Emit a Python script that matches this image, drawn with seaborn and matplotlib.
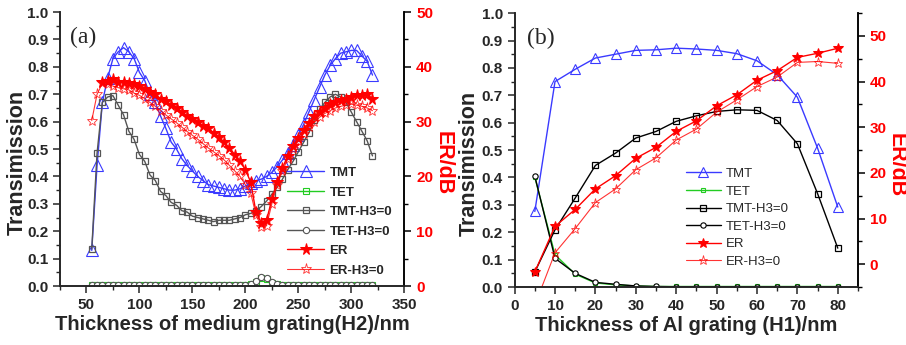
import numpy as np
import pandas as pd
import matplotlib
matplotlib.use('Agg')
import matplotlib.pyplot as plt
import seaborn as sns
from matplotlib.ticker import MultipleLocator

sns.set_style('ticks')
plt.rcParams['font.family'] = ['Liberation Sans', 'DejaVu Sans']

# ---------------- panel (a): medium grating thickness H2 ----------------
h2 = [55, 60, 65, 70, 75, 80, 85, 90, 95, 100, 105, 110, 115, 120, 125, 130, 135, 140,
      145, 150, 155, 160, 165, 170, 175, 180, 185, 190, 195, 200, 205, 210, 215, 220,
      225, 230, 235, 240, 245, 250, 255, 260, 265, 270, 275, 280, 285, 290, 295, 300,
      305, 310, 315, 320]
tmt_a = [0.13, 0.44, 0.67, 0.76, 0.83, 0.855, 0.87, 0.855, 0.83, 0.78, 0.75, 0.70, 0.67, 0.62,
         0.575, 0.525, 0.50, 0.465, 0.44, 0.42, 0.40, 0.385, 0.37, 0.365, 0.36, 0.355, 0.35,
         0.35, 0.355, 0.365, 0.375, 0.385, 0.39, 0.40, 0.415, 0.435, 0.46, 0.485, 0.515, 0.55,
         0.59, 0.635, 0.68, 0.725, 0.77, 0.805, 0.83, 0.85, 0.855, 0.86, 0.86, 0.84, 0.82, 0.77]
tet_a = [0.003, 0.003, 0.003, 0.003, 0.003, 0.003, 0.003, 0.003, 0.003, 0.003, 0.003, 0.003,
         0.003, 0.003, 0.003, 0.003, 0.003, 0.003, 0.003, 0.003, 0.003, 0.003, 0.003, 0.003,
         0.003, 0.003, 0.003, 0.003, 0.004, 0.005, 0.008, 0.015, 0.028, 0.025, 0.012, 0.006,
         0.004, 0.003, 0.003, 0.003, 0.003, 0.003, 0.003, 0.003, 0.003, 0.003, 0.003, 0.003,
         0.003, 0.003, 0.003, 0.003, 0.003, 0.003]
tmt0_a = [0.135, 0.485, 0.67, 0.69, 0.695, 0.66, 0.625, 0.565, 0.535, 0.48, 0.455, 0.405, 0.385,
          0.345, 0.33, 0.305, 0.295, 0.275, 0.27, 0.255, 0.25, 0.245, 0.24, 0.235, 0.24, 0.24,
          0.24, 0.245, 0.25, 0.26, 0.265, 0.275, 0.29, 0.31, 0.335, 0.36, 0.39, 0.425, 0.455,
          0.49, 0.525, 0.56, 0.605, 0.645, 0.67, 0.69, 0.70, 0.69, 0.67, 0.635, 0.60, 0.565,
          0.53, 0.475]
tet0_a = [0.002, 0.002, 0.002, 0.002, 0.002, 0.002, 0.002, 0.002, 0.002, 0.002, 0.002, 0.002,
          0.002, 0.002, 0.002, 0.002, 0.002, 0.002, 0.002, 0.002, 0.002, 0.002, 0.002, 0.002,
          0.002, 0.002, 0.002, 0.002, 0.003, 0.004, 0.008, 0.018, 0.033, 0.028, 0.014, 0.006,
          0.003, 0.002, 0.002, 0.002, 0.002, 0.002, 0.002, 0.002, 0.002, 0.002, 0.002, 0.002,
          0.002, 0.002, 0.002, 0.002, 0.002, 0.002]
er_a = [np.nan, np.nan, 37.2, 37.5, 37.8, 37.3, 37.2, 37.0, 36.8, 36.5, 36.0, 35.5, 35.0, 34.2,
        33.8, 33.0, 32.5, 31.8, 31.0, 30.5, 30.0, 29.2, 28.8, 28.0, 27.2, 26.2, 25.2, 24.0,
        22.8, 21.2, 19.0, 13.5, 11.5, 12.0, 15.8, 19.0, 21.5, 23.8, 25.5, 27.0, 28.5, 29.8,
        31.0, 31.8, 32.5, 33.2, 33.5, 34.0, 34.2, 34.5, 34.8, 34.8, 35.0, 34.2]
er0_a = [30.2, 35.0, 37.0, 36.8, 36.5, 36.2, 36.0, 35.8, 35.2, 34.8, 34.2, 33.5, 32.8, 32.0,
         31.2, 30.5, 29.8, 29.0, 28.2, 27.5, 26.8, 26.0, 25.2, 24.5, 23.8, 23.0, 22.0, 21.0,
         20.0, 18.5, 17.0, 13.0, 10.8, 11.0, 15.0, 18.5, 21.0, 23.2, 25.0, 26.5, 27.8, 29.0,
         30.0, 30.8, 31.5, 32.0, 32.5, 32.8, 33.0, 33.2, 33.0, 32.8, 32.5, 32.0]

# ---------------- panel (b): Al grating thickness H1 ----------------
h1 = [5, 10, 15, 20, 25, 30, 35, 40, 45, 50, 55, 60, 65, 70, 75, 80]
tmt_b = [0.276, 0.75, 0.795, 0.836, 0.85, 0.864, 0.866, 0.872, 0.869, 0.864, 0.852, 0.826,
         0.775, 0.693, 0.507, 0.292]
tet_b = [0.401, 0.118, 0.047, 0.015, 0.008, 0.004, 0.002, 0.002, 0.002, 0.002, 0.002, 0.002,
         0.002, 0.002, 0.002, 0.002]
tmt0_b = [0.055, 0.209, 0.325, 0.444, 0.489, 0.544, 0.568, 0.605, 0.625, 0.641, 0.647, 0.645,
          0.608, 0.523, 0.341, 0.142]
tet0_b = [0.405, 0.105, 0.05, 0.017, 0.01, 0.004, 0.002, 0.001, 0.001, 0.001, 0.001, 0.001,
          0.001, 0.001, 0.001, 0.001]
er_b = [-1.7, 8.3, 12.0, 16.5, 19.4, 23.2, 25.6, 29.1, 31.4, 34.7, 37.1, 40.3, 42.4, 45.3,
        46.2, 47.3]
er0_b = [-9.0, 2.5, 7.8, 13.5, 16.5, 20.7, 23.3, 27.2, 29.6, 33.3, 36.0, 38.9, 41.0, 44.2,
         44.4, 44.0]

labels = ['TMT', 'TET', 'TMT-H3=0', 'TET-H3=0', 'ER', 'ER-H3=0']
blue, green, red = '#3a3aff', '#22cc22', '#ff0000'

fig = plt.figure(figsize=(9.06, 3.45), dpi=100)
ax_a = fig.add_axes([0.0662, 0.171, 0.38, 0.794])
ax_b = fig.add_axes([0.568, 0.168, 0.379, 0.794])


def draw_panel(ax, x, tmt, tet, tmt0, tet0, er, er0, big, dark):
    s = 1.0 if big else 0.85
    twin = ax.twinx()
    sns.lineplot(x=x, y=tmt, ax=ax, color=blue, lw=1, marker='^', ms=8 * s,
                 mfc='none', mec=blue, mew=0.8, label=labels[0], legend=False)
    sns.lineplot(x=x, y=tet, ax=ax, color=green, lw=1, marker='s', ms=4 * s,
                 mfc='none', mec=green, mew=0.8, label=labels[1], legend=False)
    sns.lineplot(x=x, y=tmt0, ax=ax, color=dark, lw=1, marker='s', ms=5 * s,
                 mfc='none', mec=dark, mew=0.9, label=labels[2], legend=False)
    sns.lineplot(x=x, y=tet0, ax=ax, color=dark, lw=1, marker='o', ms=4.5 * s,
                 mfc='white', mec=dark, mew=0.8, label=labels[3], legend=False)
    sns.lineplot(x=x, y=er, ax=twin, color=red, lw=1, marker='*', ms=8.5 * s,
                 mfc=red, mec=red, label=labels[4], legend=False)
    sns.lineplot(x=x, y=er0, ax=twin, color=red, lw=0.8, marker='*', ms=8 * s,
                 mfc='none', mec=red, mew=0.6, alpha=0.8, label=labels[5], legend=False)
    ax.set_ylim(0, 1.0)
    ax.yaxis.set_major_locator(MultipleLocator(0.1))
    ax.yaxis.set_minor_locator(MultipleLocator(0.05))
    ax.set_ylabel('Transimission', fontsize=15.5, fontweight='bold', rotation=90,
                  rotation_mode='default', ha='center', va='center')
    twin.set_ylabel('ER/dB', fontsize=15.5, fontweight='bold', color=red, rotation=270,
                    rotation_mode='default', ha='center', va='center')
    twin.yaxis.set_major_locator(MultipleLocator(10))
    twin.yaxis.set_minor_locator(MultipleLocator(5))
    twin.tick_params(axis='y', which='both', colors=red, labelsize=11)
    twin.spines['right'].set_color('black')
    twin.tick_params(axis='y', which='both', color='black')
    for a in (ax, twin):
        a.spines['top'].set_visible(False)
        for sp in a.spines.values():
            sp.set_linewidth(1.2)
    ax.tick_params(axis='both', which='major', length=5, width=1.1, labelsize=11)
    ax.tick_params(axis='both', which='minor', length=3, width=1.0)
    twin.tick_params(axis='y', which='major', length=5, width=1.1)
    twin.tick_params(axis='y', which='minor', length=3, width=1.0)
    h1_, l1_ = ax.get_legend_handles_labels()
    h2_, l2_ = twin.get_legend_handles_labels()
    return twin, h1_ + h2_, l1_ + l2_


def bold_ticks(ax, twin):
    for t in ax.get_xticklabels() + ax.get_yticklabels() + twin.get_yticklabels():
        t.set_fontweight('bold')


tw_a, hd, lb = draw_panel(ax_a, h2, tmt_a, tet_a, tmt0_a, tet0_a, er_a, er0_a, True, '#555555')
ax_a.set_xlim(25, 350)
ax_a.set_xticks([50, 100, 150, 200, 250, 300, 350])
ax_a.xaxis.set_minor_locator(MultipleLocator(25))
tw_a.set_ylim(0, 50)
bold_ticks(ax_a, tw_a)
ax_a.yaxis.set_label_coords(-0.125, 0.45)
tw_a.yaxis.set_label_coords(1.112, 0.45)
ax_a.set_xlabel('Thickness of medium grating(H2)/nm', fontsize=14.5, fontweight='bold', labelpad=2)
ax_a.text(0.03, 0.945, '(a)', transform=ax_a.transAxes, fontsize=17, va='top',
          family='Liberation Serif')
tw_a.legend(hd, lb, loc='upper left', bbox_to_anchor=(0.66, 0.435), frameon=False,
            prop={'weight': 'bold', 'size': 9.5}, handlelength=2.8, labelspacing=0.55,
            handletextpad=0.4, borderaxespad=0, borderpad=0)

tw_b, hd, lb = draw_panel(ax_b, h1, tmt_b, tet_b, tmt0_b, tet0_b, er_b, er0_b, False, 'black')
ax_b.set_xlim(0, 85)
ax_b.set_xticks([0, 10, 20, 30, 40, 50, 60, 70, 80])
ax_b.xaxis.set_minor_locator(MultipleLocator(5))
tw_b.set_ylim(-5, 55)
tw_b.set_yticks([0, 10, 20, 30, 40, 50])
bold_ticks(ax_b, tw_b)
ax_b.yaxis.set_label_coords(-0.131, 0.45)
tw_b.yaxis.set_label_coords(1.11, 0.445)
ax_b.set_xlabel('Thickness of Al grating (H1)/nm', fontsize=14.5, fontweight='bold', labelpad=2)
ax_b.text(0.035, 0.945, '(b)', transform=ax_b.transAxes, fontsize=17, va='top',
          family='Liberation Serif')
tw_b.legend(hd, lb, loc='upper left', bbox_to_anchor=(0.5, 0.435), frameon=False,
            prop={'size': 9.5}, handlelength=2.6, labelspacing=0.4,
            handletextpad=0.4, borderaxespad=0, borderpad=0)

fig.savefig('out.png', dpi=100)
